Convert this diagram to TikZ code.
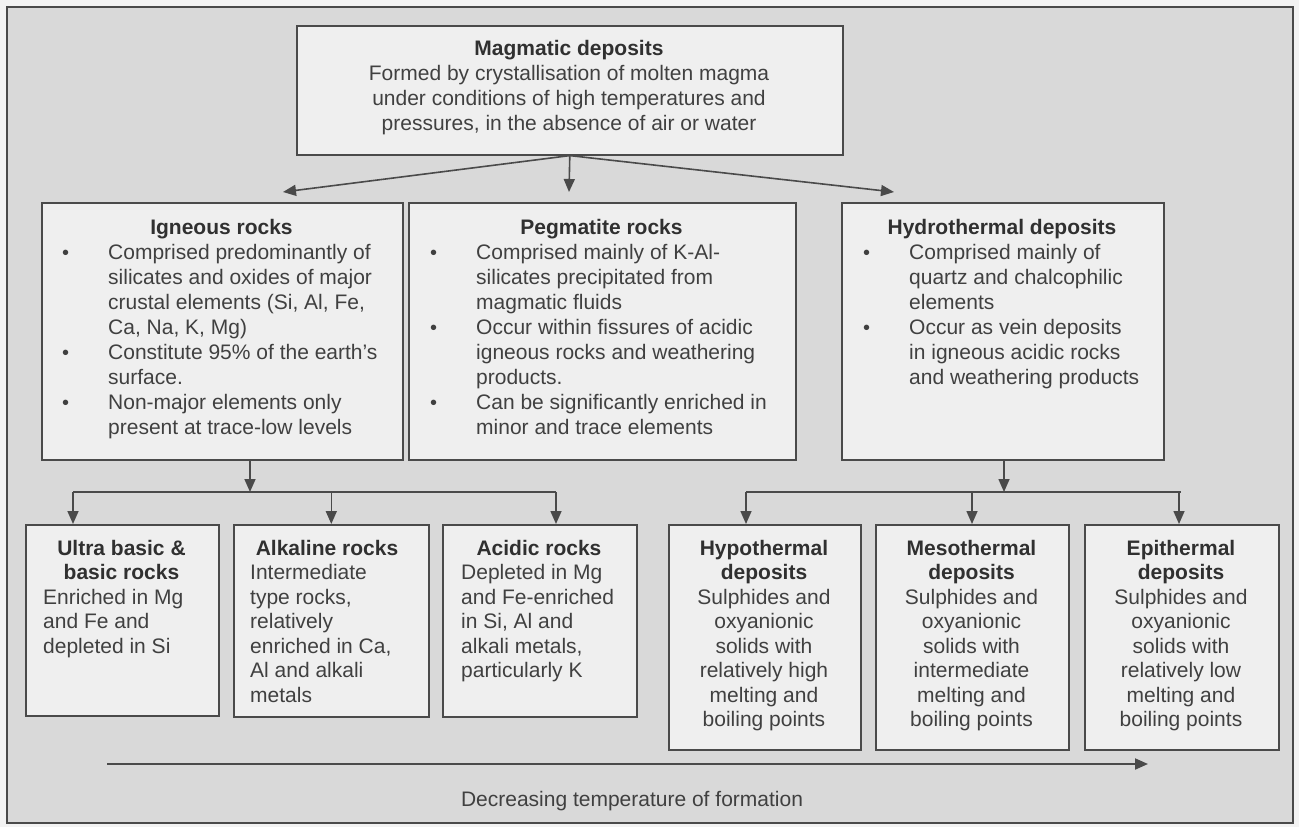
\documentclass[tikz,border=0pt]{standalone}
\usepackage{fontspec}
\setmainfont{Liberation Sans}
\usetikzlibrary{arrows.meta}
\definecolor{bg}{HTML}{D9D9D9}
\definecolor{boxfill}{HTML}{EFEFEF}
\definecolor{edge}{HTML}{4A4A4A}
\definecolor{txt}{HTML}{404040}
\definecolor{ttltxt}{HTML}{303030}
\definecolor{margin}{HTML}{F3F3F3}
\newcommand{\bul}{\llap{\makebox[46pt][l]{\fontsize{20}{20}\selectfont\textbullet}}}
\begin{document}
\begin{tikzpicture}[x=1pt,y=-1pt,
  boxn/.style={draw=edge,fill=boxfill,line width=1.6pt,inner sep=0pt,anchor=north west},
  ttl/.style={inner sep=0pt,anchor=base,text=ttltxt,font=\fontsize{21}{25}\selectfont\bfseries},
  ctr/.style={inner sep=0pt,anchor=base,text=txt,font=\fontsize{21}{25}\selectfont},
  body/.style={inner sep=0pt,anchor=base west,text=txt,font=\fontsize{21}{25}\selectfont},
  sbody/.style={inner sep=0pt,anchor=base west,text=txt,font=\fontsize{21}{24.5}\selectfont},
  sctr/.style={inner sep=0pt,anchor=base,text=txt,font=\fontsize{21}{24.5}\selectfont},
  conn/.style={draw=edge,line width=1.6pt},
  arr/.style={draw=edge,line width=1.6pt,-{Triangle[length=13pt,width=11pt]}}]
\useasboundingbox (0,0) rectangle (1299,827);
\fill[margin] (0,0) rectangle (1299,827);
\draw[draw=edge,fill=bg,line width=1.4pt] (7,7) rectangle (1293,823);

% boxes
\node[boxn,minimum width=546pt,minimum height=129pt] (top) at (296,25) {};
\node[boxn,minimum width=361pt,minimum height=257pt] (ign) at (41,202) {};
\node[boxn,minimum width=387pt,minimum height=257pt] (peg) at (408,202) {};
\node[boxn,minimum width=322pt,minimum height=257pt] (hyd) at (841,202) {};
\node[boxn,minimum width=193pt,minimum height=191pt] (ultra) at (25,524) {};
\node[boxn,minimum width=195pt,minimum height=192pt] (alk) at (233,524) {};
\node[boxn,minimum width=194pt,minimum height=192pt] (acid) at (442,524) {};
\node[boxn,minimum width=192pt,minimum height=225pt] (hypo) at (668,524) {};
\node[boxn,minimum width=193pt,minimum height=225pt] (meso) at (875,524) {};
\node[boxn,minimum width=194pt,minimum height=225pt] (epi) at (1084,524) {};

% top box text
\node[ctr] (topT) at (569,55) {\begin{tabular}[t]{@{}c@{}}\textbf{\color{ttltxt}Magmatic deposits}\\
Formed by crystallisation of molten magma\\
under conditions of high temperatures and\\
pressures, in the absence of air or water\end{tabular}};

% middle boxes
\node[ttl] (ignT) at (221.5,234) {Igneous rocks};
\node[body] (ignB) at (108,259) {\begin{tabular}[t]{@{}l@{}}\bul Comprised predominantly of\\
silicates and oxides of major\\
crustal elements (Si, Al, Fe,\\
Ca, Na, K, Mg)\\
\bul Constitute 95\% of the earth's\\
surface.\\
\bul Non-major elements only\\
present at trace-low levels\end{tabular}};

\node[ttl] (pegT) at (601.5,234) {Pegmatite rocks};
\node[body] (pegB) at (476,259) {\begin{tabular}[t]{@{}l@{}}\bul Comprised mainly of K-Al-\\
silicates precipitated from\\
magmatic fluids\\
\bul Occur within fissures of acidic\\
igneous rocks and weathering\\
products.\\
\bul Can be significantly enriched in\\
minor and trace elements\end{tabular}};

\node[ttl] (hydT) at (1002,234) {Hydrothermal deposits};
\node[body] (hydB) at (909,259) {\begin{tabular}[t]{@{}l@{}}\bul Comprised mainly of\\
quartz and chalcophilic\\
elements\\
\bul Occur as vein deposits\\
in igneous acidic rocks\\
and weathering products\end{tabular}};

% bottom boxes
\node[sctr] (ultraT) at (121.5,555) {\begin{tabular}[t]{@{}c@{}}\textbf{\color{ttltxt}Ultra basic \&}\\ \textbf{\color{ttltxt}basic rocks}\end{tabular}};
\node[sbody] (ultraB) at (43,604) {\begin{tabular}[t]{@{}l@{}}Enriched in Mg\\ and Fe and\\ depleted in Si\end{tabular}};

\node[ttl] (alkT) at (327,555) {Alkaline rocks};
\node[sbody] (alkB) at (250,579.5) {\begin{tabular}[t]{@{}l@{}}Intermediate\\ type rocks,\\ relatively\\ enriched in Ca,\\ Al and alkali\\ metals\end{tabular}};

\node[ttl] (acidT) at (539,555) {Acidic rocks};
\node[sbody] (acidB) at (461,579.5) {\begin{tabular}[t]{@{}l@{}}Depleted in Mg\\ and Fe-enriched\\ in Si, Al and\\ alkali metals,\\ particularly K\end{tabular}};

\node[sctr] (hypoT) at (764,555) {\begin{tabular}[t]{@{}c@{}}\textbf{\color{ttltxt}Hypothermal}\\ \textbf{\color{ttltxt}deposits}\\ Sulphides and\\ oxyanionic\\ solids with\\ relatively high\\ melting and\\ boiling points\end{tabular}};
\node[sctr] (mesoT) at (971.5,555) {\begin{tabular}[t]{@{}c@{}}\textbf{\color{ttltxt}Mesothermal}\\ \textbf{\color{ttltxt}deposits}\\ Sulphides and\\ oxyanionic\\ solids with\\ intermediate\\ melting and\\ boiling points\end{tabular}};
\node[sctr] (epiT) at (1181,555) {\begin{tabular}[t]{@{}c@{}}\textbf{\color{ttltxt}Epithermal}\\ \textbf{\color{ttltxt}deposits}\\ Sulphides and\\ oxyanionic\\ solids with\\ relatively low\\ melting and\\ boiling points\end{tabular}};

% connectors from top box
\coordinate (tl) at (283,192);
\coordinate (tc) at (569,192);
\coordinate (tr) at (894,192);
\draw[arr] (top.south) -- (tl);
\draw[arr] (top.south) -- (tc);
\draw[arr] (top.south) -- (tr);

% igneous subtree
\coordinate (ij) at (250,492);
\coordinate (il) at (73,492);
\coordinate (ir) at (556,492);
\draw[arr] (ign.south -| ij) -- (ij);
\draw[conn] (il) -- (ir);
\draw[arr] (il) -- (il |- ultra.north);
\draw[arr] (alk.north |- il) -- (alk.north);
\draw[arr] (ir) -- (ir |- acid.north);

% hydrothermal subtree
\coordinate (hj) at (1004,492);
\coordinate (hl) at (746,492);
\coordinate (hr) at (1181,492);
\coordinate (hm) at (972,492);
\coordinate (he) at (1179,492);
\draw[arr] (hyd.south -| hj) -- (hj);
\draw[conn] (hl) -- (hr);
\draw[arr] (hl) -- (hl |- hypo.north);
\draw[arr] (hm) -- (hm |- meso.north);
\draw[arr] (he) -- (he |- epi.north);

% temperature arrow
\coordinate (ts) at (107,764);
\coordinate (te) at (1148,764);
\draw[arr,line width=2pt] (ts) -- (te);
\node[ctr] (templ) at (632,806) {Decreasing temperature of formation};
\end{tikzpicture}
\end{document}
